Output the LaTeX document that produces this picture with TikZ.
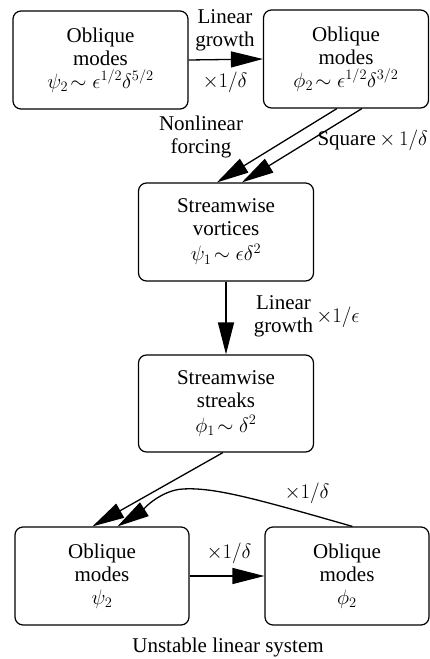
\documentclass[tikz,border=0pt]{standalone}
\usepackage{fontspec}
\setmainfont{Liberation Serif}
\usetikzlibrary{positioning,calc,arrows.meta}

\tikzset{
  box/.style={draw, rounded corners=8pt, line width=1.2pt, minimum width=175pt,
    minimum height=98pt, align=center, inner sep=0pt},
  arr/.style={line width=1.3pt, -{Triangle[length=32pt,width=16pt]}},
  lbl/.style={align=center, inner sep=0pt}
}

\begin{document}
\begin{tikzpicture}[x=1pt,y=-1pt,font=\fontsize{21}{23}\selectfont]
  \useasboundingbox (0,0) rectangle (430,659);

  % Oblique modes, top row
  \node[box] (ob1) at (100.5,60) {Oblique\\modes\\$\psi_2\!\sim\epsilon^{1/2}\delta^{5/2}$};
  \node[box, minimum width=165pt] (ob2) at (346,59) {Oblique\\modes\\$\phi_2\!\sim\epsilon^{1/2}\delta^{3/2}$};
  \draw[arr] (ob1.east) -- (ob2.west);
  \node[lbl] (lg1) at (225,30) {Linear\\growth};
  \node[lbl] (m1) at (225,82) {$\times 1/\delta$};

  % Streamwise vortices
  \node[box] (sv) at (226,232) {Streamwise\\vortices\\[2pt]$\psi_1\!\sim\epsilon\delta^2$};
  \draw[arr] ($(ob2.south west)+(74,0)$) -- ($(sv.north west)+(79,0)$);
  \draw[arr] ($(ob2.south west)+(99,0)$) -- ($(sv.north west)+(104,0)$);
  \node[lbl] (nf) at (201,137) {Nonlinear\\forcing};
  \node[lbl, anchor=east] (sq) at (428,140) {Square\,$\times$\,$1/\delta$};

  % Streamwise streaks
  \node[box, minimum height=97pt] (sk) at (226,403.5) {Streamwise\\streaks\\[2pt]$\phi_1\!\sim\delta^2$};
  \draw[arr] (sv.south) -- (sk.north);
  \node[lbl] (lg2) at (283.5,316) {Linear\\growth};
  \node[lbl] (m2) at (338,317) {$\times 1/\epsilon$};

  % Oblique modes, bottom row
  \node[box, minimum width=174pt] (ob3) at (102,576) {Oblique\\modes\\$\psi_2$};
  \node[box, minimum width=164pt] (ob4) at (347,576) {Oblique\\modes\\$\phi_2$};
  \draw[arr] ($(sk.south west)+(85,0)$) -- ($(ob3.north west)+(78,0)$);
  \draw[arr] (ob3.east) -- (ob4.west);
  \node[lbl] (m3) at (229,553) {$\times 1/\delta$};
  \draw[arr] ($(ob4.north west)+(88,0)$) .. controls (260,500) and (215,487) .. (183,489)
    .. controls (160,490) and (140,512) .. ($(ob3.north west)+(103,0)$);
  \node[lbl] (m4) at (307,493) {$\times 1/\delta$};

  \node[lbl] (cap) at (228,647) {Unstable linear system};
\end{tikzpicture}
\end{document}
